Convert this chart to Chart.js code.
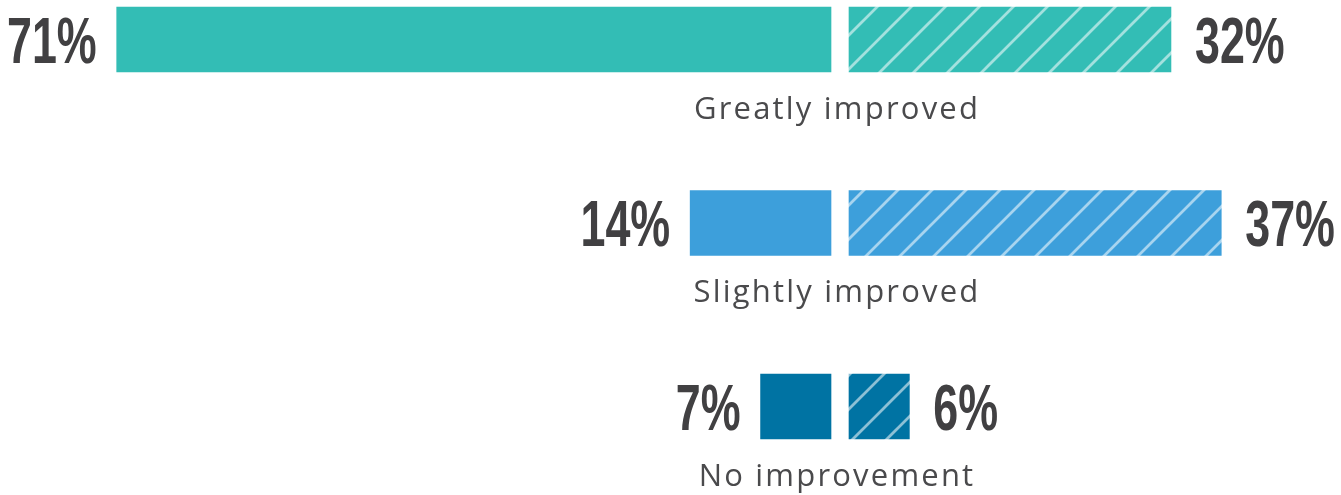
<!DOCTYPE html>
<html>
<head>
<meta charset="utf-8">
<script src="https://cdn.jsdelivr.net/npm/chart.js@4.4.0/dist/chart.umd.min.js"></script>
<style>
    html, body { margin: 0; padding: 0; background: #fff; }
    #wrap { width: 1341px; height: 495px; position: relative; }
</style>
</head>
<body>
<div id="wrap"><canvas id="improvementChart"></canvas></div>
<script>
var categories = ["Greatly improved", "Slightly improved", "No improvement"];
var leftValues = [71, 14, 7];
var rightValues = [32, 37, 6];
var barColors = ["#33bdb5", "#3d9fdb", "#0073a3"];

// diagonal hatch for the right hand bars
function makeHatch(color) {
    var size = 34;
    var c = document.createElement('canvas');
    c.width = size;
    c.height = size;
    var p = c.getContext('2d');
    p.fillStyle = color;
    p.fillRect(0, 0, size, size);
    p.strokeStyle = 'rgba(255,255,255,0.55)';
    p.lineWidth = 2.8;
    p.beginPath();
    p.moveTo(-3, size + 3); p.lineTo(size + 3, -3);
    p.moveTo(-3, 3); p.lineTo(3, -3);
    p.moveTo(size - 3, size + 3); p.lineTo(size + 3, size - 3);
    p.stroke();
    return p.createPattern(c, 'repeat');
}
var hatchColors = barColors.map(makeHatch);

// condensed bold numbers: squeeze Liberation Sans Bold horizontally
function drawNarrow(ctx, text, x, y, align) {
    ctx.save();
    ctx.translate(x, y);
    ctx.scale(0.7, 1);
    ctx.font = 'bold 64px "Liberation Sans", Arial, sans-serif';
    ctx.textAlign = align;
    ctx.textBaseline = 'alphabetic';
    ctx.fillStyle = '#414042';
    ctx.fillText(text, 0, 0);
    ctx.restore();
}

var labelPlugin = {
    id: 'barLabels',
    afterDatasetsDraw: function(chart) {
        var ctx = chart.ctx;
        var leftBars = chart.getDatasetMeta(0).data;
        var rightBars = chart.getDatasetMeta(1).data;
        var gap = chart.scales.xGap;
        var mid = (gap.left + gap.right) / 2;
        categories.forEach(function(cat, i) {
            var y = leftBars[i].y;
            drawNarrow(ctx, leftValues[i] + '%', leftBars[i].x - 20, y + 23, 'right');
            drawNarrow(ctx, rightValues[i] + '%', rightBars[i].x + 24, y + 23, 'left');
            ctx.save();
            ctx.font = '400 31px "Open Sans"';
            ctx.letterSpacing = '2.2px';
            ctx.fillStyle = '#4a4a4c';
            ctx.textAlign = 'center';
            ctx.textBaseline = 'alphabetic';
            ctx.fillText(cat, mid - 3, y + 79);
            ctx.restore();
        });
    }
};

var chart = new Chart("improvementChart", {
    type: "bar",
    data: {
        labels: categories,
        datasets: [{
            data: leftValues,
            xAxisID: 'xL',
            backgroundColor: barColors,
            grouped: false,
            barThickness: 65,
            maxBarThickness: 65,
            clip: false
        }, {
            data: rightValues,
            xAxisID: 'xR',
            backgroundColor: hatchColors,
            grouped: false,
            barThickness: 65,
            maxBarThickness: 65,
            clip: false
        }]
    },
    options: {
        indexAxis: 'y',
        responsive: true,
        maintainAspectRatio: false,
        animation: false,
        layout: {
            padding: { top: 39.5, bottom: 88.5, left: 0, right: 0 }
        },
        plugins: {
            legend: { display: false },
            tooltip: { enabled: false }
        },
        scales: {
            y: { type: 'category', display: false, offset: false },
            xL: { type: 'linear', position: 'bottom', stack: 'row', stackWeight: 831, weight: 1, reverse: true, min: 0, max: 82.6, display: false },
            xGap: { type: 'linear', position: 'bottom', stack: 'row', stackWeight: 18, weight: 2, min: 0, max: 1, display: false },
            xR: { type: 'linear', position: 'bottom', stack: 'row', stackWeight: 492, weight: 3, min: 0, max: 48.9, display: false }
        }
    },
    plugins: [labelPlugin]
});
</script>
</body>
</html>
